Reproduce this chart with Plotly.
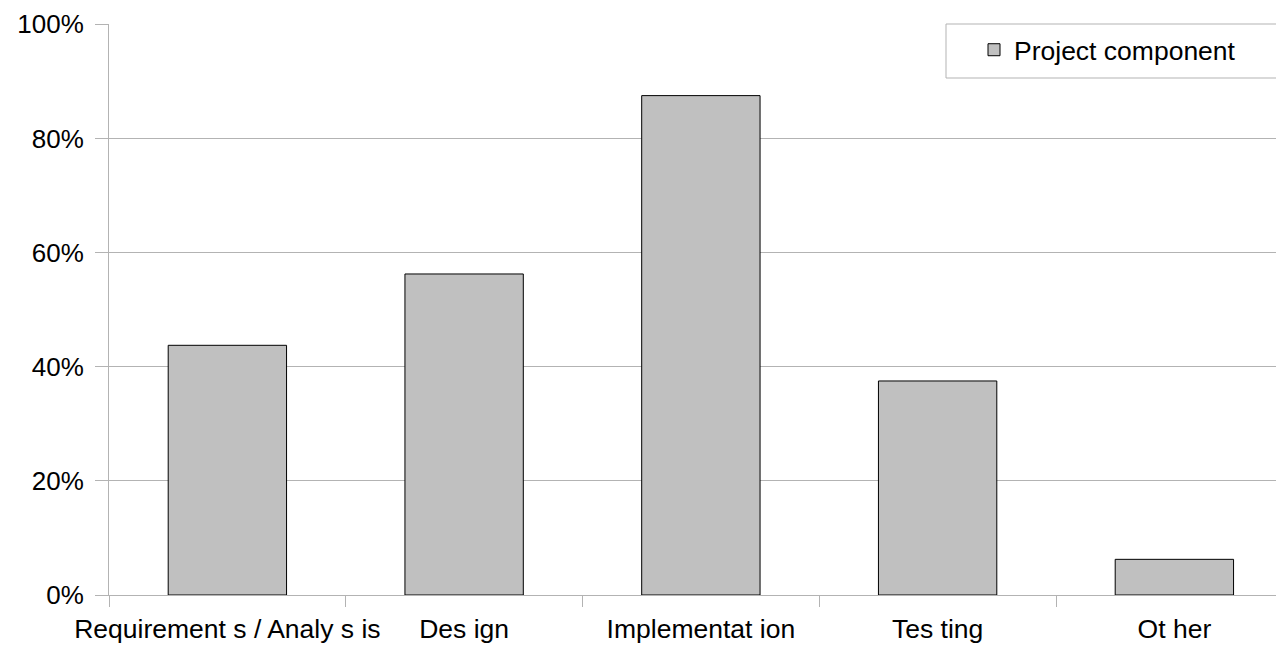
import plotly.graph_objects as go

# Share of respondents naming each project component
categories = ["Requirement s / Analy s is", "Des ign", "Implementat ion", "Tes ting", "Ot her"]
shares = [0.4375, 0.5625, 0.875, 0.375, 0.0625]
series_name = "Project component"
y_ticks = [0, 0.2, 0.4, 0.6, 0.8, 1.0]
y_tick_labels = ["0%", "20%", "40%", "60%", "80%", "100%"]

GRID = "#b3b3b3"
FONT = dict(family="Liberation Sans, Arial, sans-serif", size=26, color="#000000")

fig = go.Figure()
fig.add_trace(go.Bar(
    x=categories,
    y=shares,
    name=series_name,
    width=0.5,
    marker=dict(color="#c0c0c0", line=dict(color="#000000", width=1)),
    showlegend=True,
))

W, H = 1276, 645
left, top, bottom = 109, 24, 50
plot_w = W - left
plot_h = H - top - bottom
cat_px = 236.75  # one category slot in pixels

fig.update_layout(
    width=W,
    height=H,
    margin=dict(l=left, r=0, t=top, b=bottom, autoexpand=False),
    paper_bgcolor="white",
    plot_bgcolor="white",
    font=FONT,
    bargap=0.5,
    showlegend=True,
    legend=dict(
        x=(974 - left) / plot_w,
        y=1 - 2 / plot_h,
        xanchor="left",
        yanchor="top",
        bgcolor="rgba(0,0,0,0)",
        borderwidth=0,
        font=dict(FONT, size=26.5),
    ),
    shapes=[
        dict(
            type="rect",
            xref="paper", yref="paper",
            x0=(946 - left) / plot_w, x1=1.05,
            y0=1 - 54 / plot_h, y1=1,
            fillcolor="white",
            line=dict(color=GRID, width=1),
            layer="above",
        )
    ],
)

fig.update_xaxes(
    type="category",
    range=[-0.5, -0.5 + plot_w / cat_px],
    tickson="boundaries",
    ticks="outside",
    ticklen=11,
    tickcolor=GRID,
    tickangle=0,
    ticklabelstandoff=10,
    showgrid=False,
    showline=True,
    linecolor=GRID,
    linewidth=1,
    tickfont=dict(FONT, size=26.5),
)

fig.update_yaxes(
    range=[0, 1.0005],
    tickmode="array",
    tickvals=y_ticks,
    ticktext=y_tick_labels,
    ticks="outside",
    ticklen=13,
    tickcolor=GRID,
    showgrid=True,
    gridcolor=GRID,
    gridwidth=1,
    zeroline=False,
    showline=True,
    linecolor=GRID,
    linewidth=1,
    ticklabelstandoff=6,
    tickfont=FONT,
)

fig.write_html("out.html")
